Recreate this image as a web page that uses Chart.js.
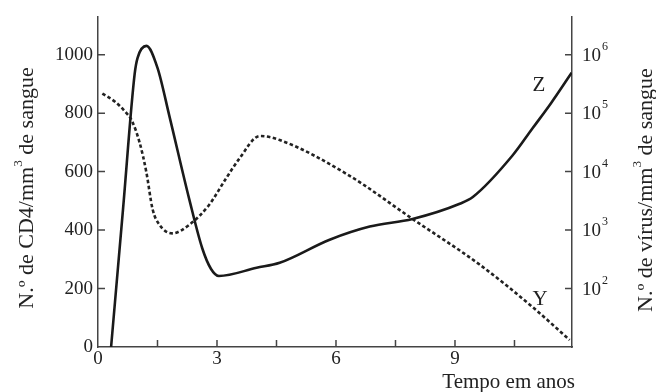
<!DOCTYPE html>
<html>
<head>
<meta charset="utf-8">
<script src="https://cdn.jsdelivr.net/npm/chart.js@4"></script>
<style>
body{margin:0;background:#fff}
#wrap{width:656px;height:392px}
</style>
</head>
<body>
<div id="wrap"><canvas id="hiv-chart"></canvas></div>
<script>
// curva Z: linfocitos CD4 (eixo esquerdo)
var zYears = [0.33, 0.63, 0.925, 1.0, 1.22, 1.5, 1.8, 2.3, 2.63, 2.85, 3.05, 4.0, 4.58, 5.84, 6.85, 7.93, 9.12, 9.45, 10.45, 10.96, 11.42, 11.94];
var zCd4 = [0, 470, 935, 990, 1030, 955, 790, 506, 337, 267, 243, 271, 288, 367, 412, 438, 490, 513, 655, 749, 834, 938];
// curva Y: virus (eixo direito, log)
var yYears = [0.11, 0.43, 0.68, 0.85, 1.05, 1.22, 1.375, 1.55, 1.875, 2.3, 2.8, 3.22, 3.55, 4.08, 4.58, 6.27, 7.93, 9.62, 10.96, 11.89];
var yVirus = [216000, 157000, 107000, 75000, 31300, 9700, 2290, 1230, 880, 1230, 2690, 7500, 16200, 40700, 34700, 9100, 1550, 257, 48, 13.2];
var cd4Ticks = [0, 200, 400, 600, 800, 1000];
var virusTicks = [100, 1000, 10000, 100000, 1000000];
var virusExp = ['2', '3', '4', '5', '6'];
var yearTicks = [0, 1.5, 3, 4.5, 6, 7.5, 9, 10.5];

var serif = '"Liberation Serif", "DejaVu Serif", serif';
Chart.defaults.font.family = serif;
Chart.defaults.color = '#222';

function toPoints(xs, ys) {
    var out = [];
    for (var i = 0; i < xs.length; i++) out.push({x: xs[i], y: ys[i]});
    return out;
}

// texto rodado com expoente
function drawVertical(ctx, x, y, parts, size) {
    ctx.save();
    ctx.translate(x, y);
    ctx.rotate(-Math.PI / 2);
    var total = 0;
    parts.forEach(function (p) {
        ctx.font = (p.sup ? size * 0.6 : size) + 'px ' + serif;
        p.w = ctx.measureText(p.t).width;
        total += p.w;
    });
    var cx = -total / 2;
    ctx.textBaseline = 'alphabetic';
    ctx.textAlign = 'left';
    parts.forEach(function (p) {
        ctx.font = (p.sup ? size * 0.6 : size) + 'px ' + serif;
        ctx.fillText(p.t, cx, p.sup ? -size * 0.5 : 0);
        cx += p.w;
    });
    ctx.restore();
}

var extras = {
    id: 'extras',
    afterDraw: function (chart) {
        var ctx = chart.ctx;
        var xs = chart.scales.x, ys = chart.scales.y, y2 = chart.scales.y2;
        var a = chart.chartArea;
        ctx.save();
        ctx.strokeStyle = '#444';
        ctx.lineWidth = 1.5;
        ctx.beginPath();
        yearTicks.forEach(function (v) {
            if (v === 0) return;
            var px = xs.getPixelForValue(v);
            ctx.moveTo(px, a.bottom);
            ctx.lineTo(px, a.bottom - 7);
        });
        cd4Ticks.forEach(function (v) {
            if (v === 0) return;
            var py = ys.getPixelForValue(v);
            ctx.moveTo(a.left, py);
            ctx.lineTo(a.left + 7, py);
        });
        virusTicks.forEach(function (v) {
            var py = y2.getPixelForValue(v);
            ctx.moveTo(a.right, py);
            ctx.lineTo(a.right - 7, py);
        });
        ctx.stroke();

        // rotulos do eixo direito
        ctx.fillStyle = '#222';
        virusTicks.forEach(function (v, i) {
            var py = y2.getPixelForValue(v);
            ctx.font = '19px ' + serif;
            ctx.textAlign = 'left';
            ctx.textBaseline = 'middle';
            ctx.fillText('10', a.right + 10, py + 1);
            var w = ctx.measureText('10').width;
            ctx.font = '12px ' + serif;
            ctx.fillText(virusExp[i], a.right + 10 + w + 1, py - 8);
        });

        drawVertical(ctx, 33, 188, [{t: 'N.º de CD4/mm'}, {t: '3', sup: true}, {t: ' de sangue'}], 22);
        drawVertical(ctx, 652, 190, [{t: 'N.º de vírus/mm'}, {t: '3', sup: true}, {t: ' de sangue'}], 22);

        ctx.font = '21px ' + serif;
        ctx.textAlign = 'right';
        ctx.textBaseline = 'alphabetic';
        ctx.fillText('Tempo em anos', a.right + 3, 388);

        ctx.font = '21px ' + serif;
        ctx.textAlign = 'center';
        ctx.fillText('Z', 539, 91);
        ctx.fillText('Y', 540, 305);
        ctx.restore();
    }
};

var chartConfig = {
    type: 'line',
    data: {
        datasets: [{
            label: 'Z',
            data: toPoints(zYears, zCd4),
            yAxisID: 'y',
            borderColor: '#1a1a1a',
            borderWidth: 2.6,
            pointRadius: 0,
            cubicInterpolationMode: 'monotone',
            fill: false
        }, {
            label: 'Y',
            data: toPoints(yYears, yVirus),
            yAxisID: 'y2',
            borderColor: '#222',
            borderWidth: 2.6,
            borderDash: [3.5, 2.5],
            pointRadius: 0,
            cubicInterpolationMode: 'monotone',
            fill: false
        }]
    },
    options: {
        responsive: true,
        maintainAspectRatio: false,
        animation: false,
        layout: {padding: {top: 12, left: 0, right: 0, bottom: 0}},
        plugins: {legend: {display: false}, tooltip: {enabled: false}},
        scales: {
            x: {
                type: 'linear',
                min: 0,
                max: 11.95,
                afterBuildTicks: function (s) { s.ticks = yearTicks.map(function (v) { return {value: v}; }); },
                afterFit: function (s) { s.height = 45; },
                grid: {display: false, drawTicks: false},
                border: {display: true, color: '#444', width: 1.5},
                ticks: {
                    padding: 1,
                    maxRotation: 0,
                    autoSkip: false,
                    font: {size: 19},
                    callback: function (v) { return v % 3 === 0 ? String(v) : ''; }
                }
            },
            y: {
                position: 'left',
                min: 0,
                max: 1131,
                afterBuildTicks: function (s) { s.ticks = cd4Ticks.map(function (v) { return {value: v}; }); },
                afterFit: function (s) { s.width = 98; },
                grid: {display: false, drawTicks: false},
                border: {display: true, color: '#444', width: 1.5},
                ticks: {padding: 5, font: {size: 19}, callback: function (v) { return String(v); }}
            },
            y2: {
                type: 'logarithmic',
                position: 'right',
                min: 10,
                max: 4520000,
                afterBuildTicks: function (s) { s.ticks = virusTicks.map(function (v) { return {value: v}; }); },
                afterFit: function (s) { s.width = 84; },
                grid: {display: false, drawTicks: false},
                border: {display: true, color: '#444', width: 1.5},
                ticks: {display: false}
            }
        }
    },
    plugins: [extras]
};
var hivChart = new Chart(document.getElementById('hiv-chart').getContext('2d'), chartConfig);
</script>
</body>
</html>
